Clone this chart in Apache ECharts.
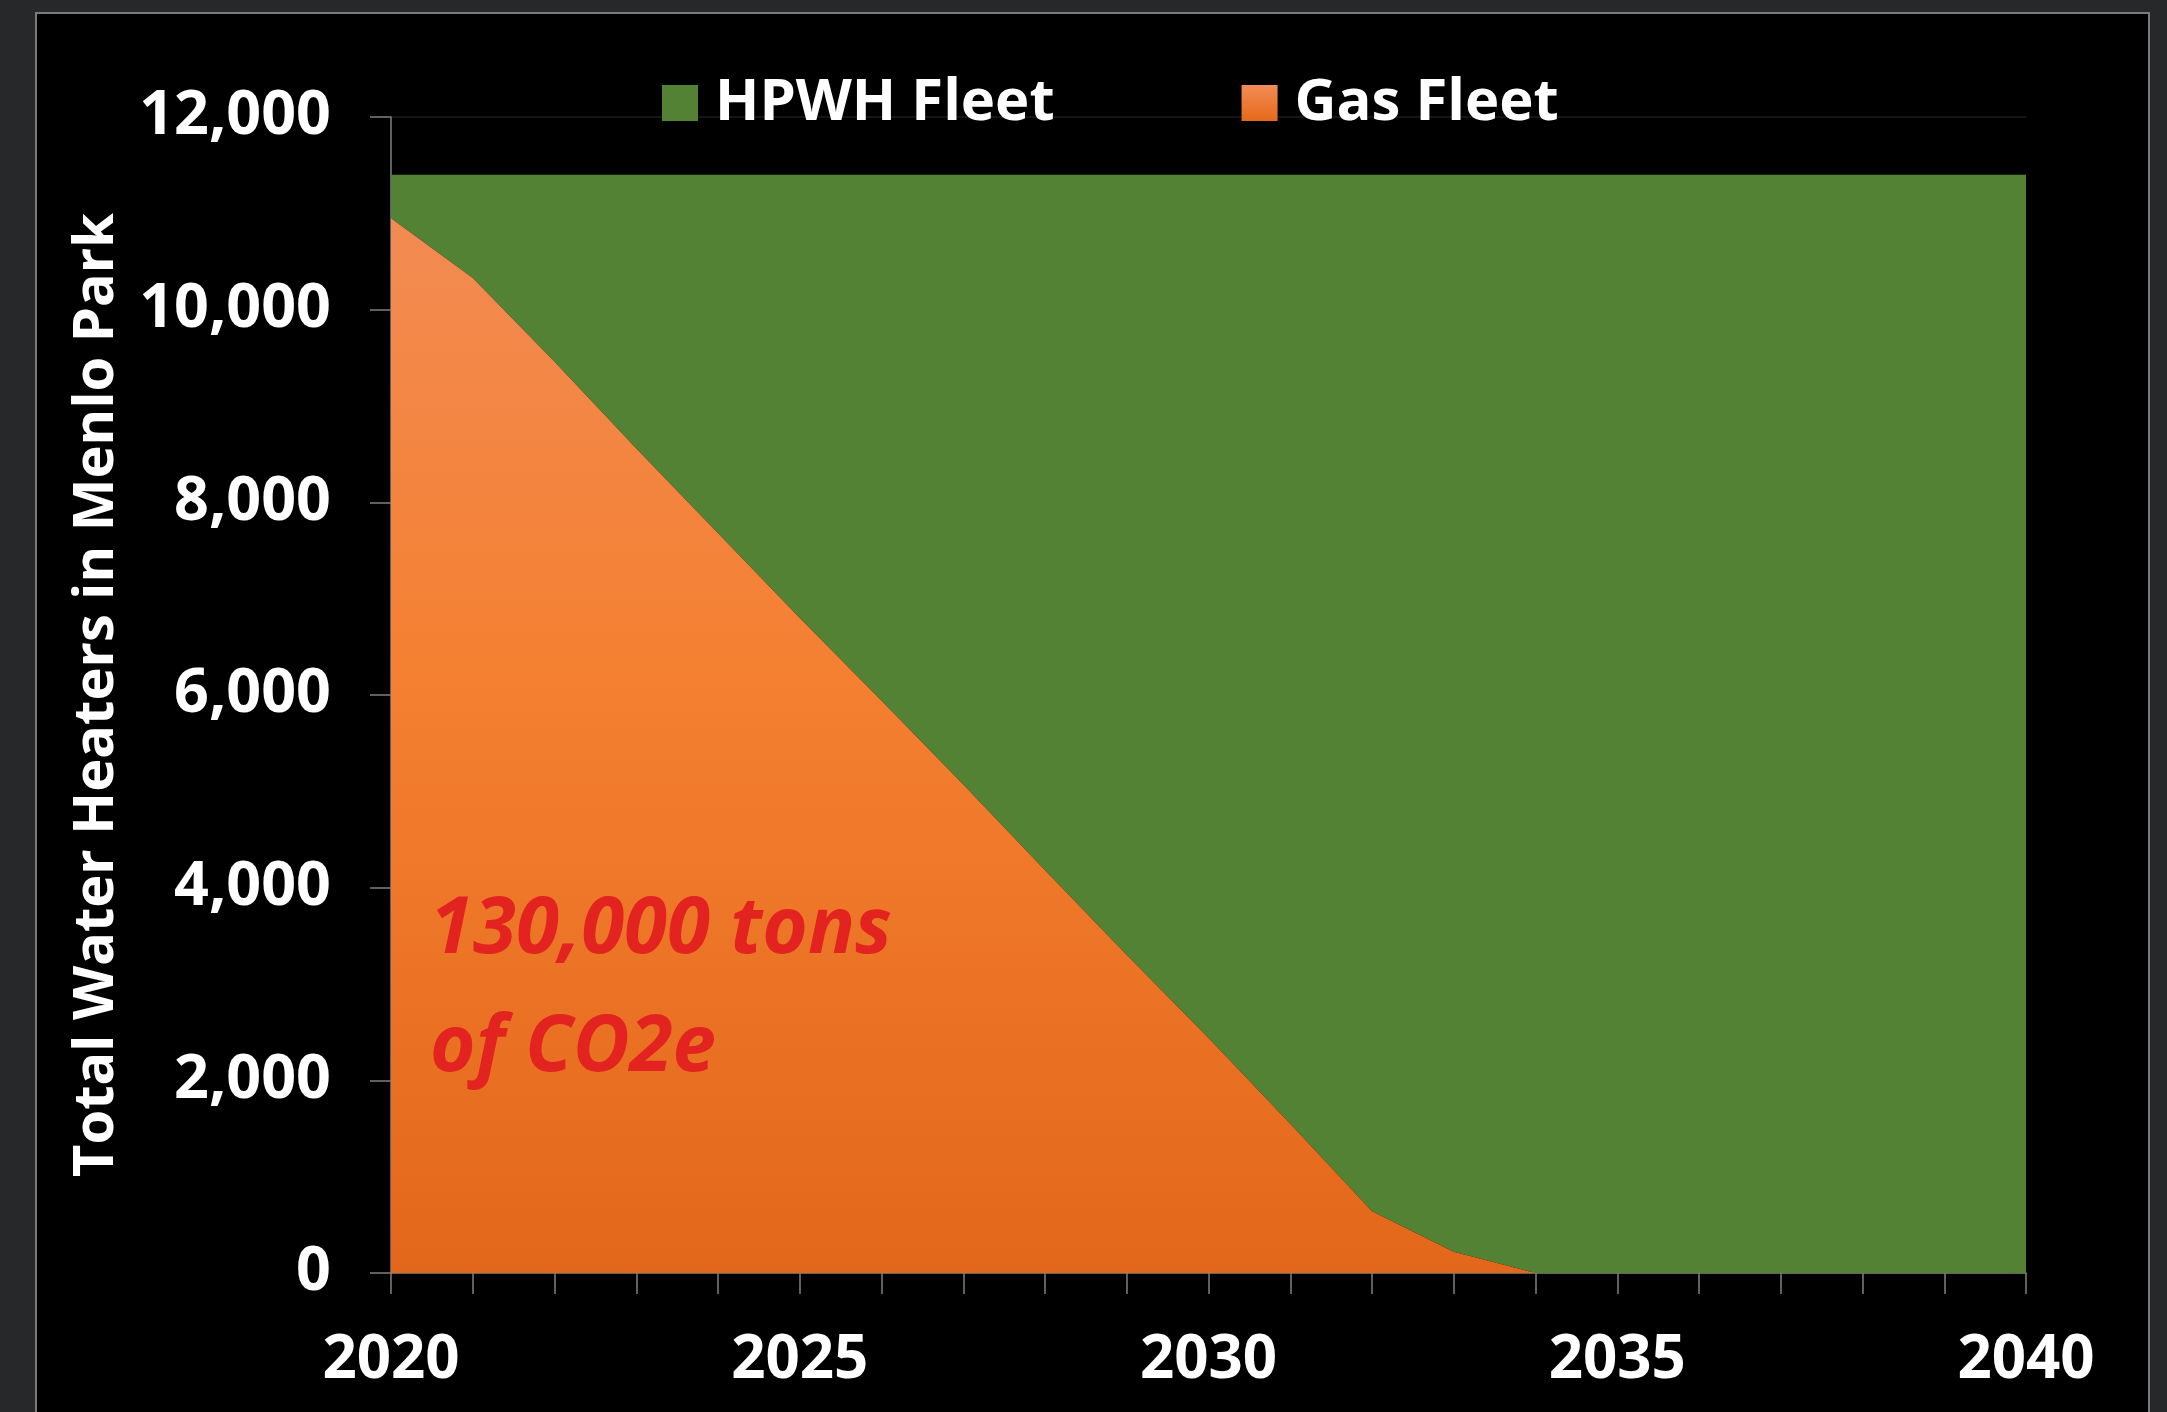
<!DOCTYPE html>
<html>
<head>
<meta charset="utf-8">
<script src="https://cdn.jsdelivr.net/npm/echarts@6/dist/echarts.min.js"></script>
<style>
  html, body { margin: 0; padding: 0; background: #27282a; width: 2167px; height: 1412px; overflow: hidden; }
  #panel { position: absolute; left: 35px; top: 12px; width: 2111px; height: 1500px; background: #000; border: 2px solid #7a7a7a; }
  #chart { position: absolute; left: 0; top: 0; width: 2167px; height: 1412px; }
</style>
</head>
<body>
<div id="panel"></div>
<div id="chart"></div>
<script>
// ---- data ----
const years = ['2020','2021','2022','2023','2024','2025','2026','2027','2028','2029','2030',
               '2031','2032','2033','2034','2035','2036','2037','2038','2039','2040'];
const gasFleet  = [10950, 10330, 9460, 8560, 7680, 6800, 5940, 5070, 4180, 3300, 2440,
                   1550, 640, 220, 0, 0, 0, 0, 0, 0, 0];
const hpwhFleet = [450, 1070, 1940, 2840, 3720, 4600, 5460, 6330, 7220, 8100, 8960,
                   9850, 10760, 11180, 11400, 11400, 11400, 11400, 11400, 11400, 11400];
const seriesNames = ['HPWH Fleet', 'Gas Fleet'];
const yAxisTitle = 'Total Water Heaters in Menlo Park';
const annotation = '130,000 tons\nof CO2e';
const yMin = 0, yMax = 12000, yStep = 2000;

const FONT = '"Open Sans", "Noto Sans", sans-serif';
const green = '#548235';
const gasGradient = new echarts.graphic.LinearGradient(0, 0, 0, 1, [
  { offset: 0, color: '#F28B52' },
  { offset: 0.45, color: '#F47F30' },
  { offset: 1, color: '#E3671A' }
]);
const gasIconGradient = new echarts.graphic.LinearGradient(0, 0, 0, 1, [
  { offset: 0, color: '#F28D56' },
  { offset: 1, color: '#E5691A' }
]);

const chart = echarts.init(document.getElementById('chart'), null, { renderer: 'canvas' });
chart.setOption({
  backgroundColor: 'transparent',
  animation: false,
  textStyle: { fontFamily: FONT },
  grid: { left: 391, right: 141, top: 117, bottom: 139, containLabel: false },
  legend: {
    data: [
      { name: seriesNames[0], itemStyle: { color: green } },
      { name: seriesNames[1], itemStyle: { color: gasIconGradient } }
    ],
    icon: 'rect',
    left: 662,
    top: 74,
    padding: 0,
    itemWidth: 36,
    itemHeight: 36,
    itemGap: 187,
    selectedMode: false,
    textStyle: {
      color: '#fff', fontSize: 58, fontWeight: 'bold', fontFamily: FONT,
      lineHeight: 58, padding: [0, 0, 0, 12]
    }
  },
  xAxis: {
    type: 'category',
    data: years,
    boundaryGap: false,
    axisLine: { show: true, lineStyle: { color: '#808080', width: 1.5 } },
    axisTick: { show: true, interval: 0, length: 21, lineStyle: { color: '#808080', width: 1.5 } },
    axisLabel: {
      interval: 4, color: '#fff', fontSize: 60, fontWeight: 'bold', fontFamily: FONT, margin: 58
    },
    splitLine: { show: false }
  },
  yAxis: {
    type: 'value',
    min: yMin, max: yMax, interval: yStep,
    name: yAxisTitle,
    nameLocation: 'middle',
    nameGap: 266,
    nameTextStyle: { color: '#fff', fontSize: 56, fontWeight: 'bold', fontFamily: FONT },
    axisLine: { show: true, lineStyle: { color: '#808080', width: 1.5 } },
    axisTick: { show: true, length: 21, lineStyle: { color: '#808080', width: 1.5 } },
    axisLabel: {
      color: '#fff', fontSize: 61, fontWeight: 'bold', fontFamily: FONT, margin: 60,
      padding: [14, 0, 0, 0],
      formatter: v => v.toLocaleString('en-US')
    },
    splitLine: { show: true, lineStyle: { color: '#1c1c1c', width: 1.5 } }
  },
  series: [
    {
      name: seriesNames[1],
      type: 'line',
      stack: 'fleet',
      data: gasFleet,
      symbol: 'none',
      lineStyle: { width: 0 },
      itemStyle: { color: gasIconGradient },
      areaStyle: { color: gasGradient, opacity: 1 },
      z: 3
    },
    {
      name: seriesNames[0],
      type: 'line',
      stack: 'fleet',
      data: hpwhFleet,
      symbol: 'none',
      lineStyle: { width: 0 },
      itemStyle: { color: green },
      areaStyle: { color: green, opacity: 1 },
      z: 2
    }
  ],
  graphic: [
    {
      type: 'text',
      left: 430,
      top: 872,
      z: 10,
      style: {
        text: annotation,
        fill: '#E2231F',
        font: 'italic bold 78px ' + FONT,
        lineHeight: 118
      }
    }
  ]
});
</script>
</body>
</html>
